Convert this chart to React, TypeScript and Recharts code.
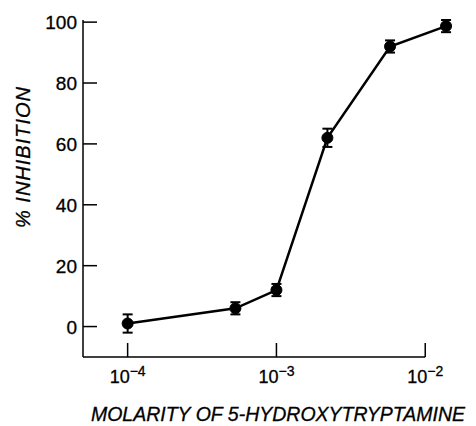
import React from 'react';
import { LineChart, Line, XAxis, YAxis, ErrorBar, ReferenceLine } from 'recharts';

const molarity = [1e-4, 5.3e-4, 1e-3, 2.2e-3, 5.8e-3, 1.38e-2];
const inhibition = [1, 6, 12, 62, 92, 98.7];
const errors = [3, 2, 2, 3, 2, 2];

const xTicks = [1e-4, 1e-3, 1e-2];
const xExponents = ['\u22124', '\u22123', '\u22122'];
const yTicks = [0, 20, 40, 60, 80, 100];

const xDomain = [Math.pow(10, -4.3), Math.pow(10, -1.8)];
const yDomain = [-10, 100];

const data = molarity.map((m, i) => ({ m, inh: inhibition[i], err: errors[i] }));

const FONT = '"Liberation Sans", Arial, Helvetica, sans-serif';
const TICK_MARGIN = 7;
const TICK_LEN = 14;

const XTick = (props: any) => {
  const { x, y, payload } = props;
  const i = xTicks.indexOf(payload.value);
  const axisY = y - TICK_MARGIN;
  return (
    <g>
      <line x1={x} x2={x} y1={axisY} y2={axisY - TICK_LEN} stroke="#000" strokeWidth={1.5} />
      <text
        x={x}
        y={y + 19}
        textAnchor="middle"
        style={{ fontFamily: FONT, fontSize: 18 }}
        fill="#000"
        stroke="#000"
        strokeWidth={0.3}
      >
        <tspan>10</tspan>
        <tspan dy={-7} style={{ fontSize: 14 }}>{xExponents[i]}</tspan>
      </text>
    </g>
  );
};

const YTick = (props: any) => {
  const { x, y, payload } = props;
  const axisX = x + TICK_MARGIN;
  return (
    <g>
      <line x1={axisX} x2={axisX + TICK_LEN} y1={y} y2={y} stroke="#000" strokeWidth={1.5} />
      <text
        x={x + 1}
        y={y + 7}
        textAnchor="end"
        style={{ fontFamily: FONT, fontSize: 19 }}
        fill="#000"
        stroke="#000"
        strokeWidth={0.3}
      >
        {payload.value}
      </text>
    </g>
  );
};

const YLabel = () => (
  <text
    x={23}
    y={157}
    transform="rotate(-90, 23, 157)"
    textAnchor="middle"
    dominantBaseline="central"
    style={{ fontFamily: FONT, fontStyle: 'italic', fontSize: 20, letterSpacing: 1 }}
    fill="#000"
    stroke="#000"
    strokeWidth={0.3}
  >
    % INHIBITION
  </text>
);

const XLabel = () => (
  <text
    x={278}
    y={421}
    textAnchor="middle"
    style={{ fontFamily: FONT, fontStyle: 'italic', fontSize: 19.5 }}
    fill="#000"
    stroke="#000"
    strokeWidth={0.3}
  >
    MOLARITY OF 5-HYDROXYTRYPTAMINE
  </text>
);

export default function App() {
  return (
    <div style={{ width: 476, height: 426, background: '#fff' }}>
      <style>{'body{margin:0;background:#fff}'}</style>
      <LineChart width={476} height={426} data={data} margin={{ top: 20, right: 21, left: 0, bottom: 0 }}>
        <XAxis
          dataKey="m"
          type="number"
          scale="log"
          domain={xDomain}
          ticks={xTicks}
          axisLine={false}
          tickLine={false}
          tickSize={0}
          tickMargin={TICK_MARGIN}
          tick={<XTick />}
          height={69}
          interval={0}
          label={<XLabel />}
        />
        <YAxis
          type="number"
          domain={yDomain}
          ticks={yTicks}
          axisLine={{ stroke: '#000', strokeWidth: 1.5 }}
          tickLine={false}
          tickSize={0}
          tickMargin={TICK_MARGIN}
          tick={<YTick />}
          width={83}
          interval={0}
          label={<YLabel />}
        />
        <ReferenceLine
          segment={[{ x: xDomain[0], y: -10 }, { x: 1e-2, y: -10 }]}
          stroke="#000"
          strokeWidth={1.5}
        />
        <Line
          type="linear"
          dataKey="inh"
          stroke="#000"
          strokeWidth={2.5}
          dot={{ r: 5.5, fill: '#000', stroke: '#000', strokeWidth: 1 }}
          activeDot={false}
          isAnimationActive={false}
        >
          <ErrorBar dataKey="err" direction="y" width={5} stroke="#000" strokeWidth={2} />
        </Line>
      </LineChart>
    </div>
  );
}
